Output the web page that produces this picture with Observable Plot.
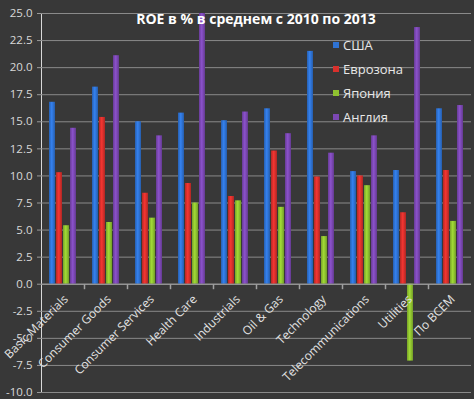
<!DOCTYPE html>
<html>
<head>
<meta charset="utf-8">
<script src="https://cdn.jsdelivr.net/npm/d3@7"></script>
<script src="https://cdn.jsdelivr.net/npm/@observablehq/plot@0.6"></script>
<style>
  html, body { margin: 0; padding: 0; background: #383838; }
  #wrap { position: relative; width: 474px; height: 399px; overflow: hidden; background: #383838; font-family: "Open Sans", sans-serif; }
  #chart { position: absolute; left: 0; top: 0; }
  #title { position: absolute; left: 256px; top: 9px; transform: translateX(-50%); color: #ffffff; font-weight: bold; font-size: 14px; white-space: nowrap; }
  #legend { position: absolute; left: 333px; top: 33px; }
  .item { display: flex; align-items: center; height: 24px; color: #e8e8e8; font-size: 13px; }
  .sw { width: 6px; height: 6px; margin-right: 4px; }
</style>
</head>
<body>
<div id="wrap">
  <div id="chart"></div>
  <div id="title"></div>
  <div id="legend"></div>
</div>
<script>
const title = "ROE в % в среднем с 2010 по 2013";
const categories = ["Basic Materials", "Consumer Goods", "Consumer Services", "Health Care", "Industrials", "Oil & Gas", "Technology", "Telecommunications", "Utilities", "По ВСЕМ"];
const series = ["США", "Еврозона", "Япония", "Англия"];
const usa      = [16.8, 18.2, 15.0, 15.8, 15.1, 16.2, 21.5, 10.4, 10.5, 16.2];
const eurozone = [10.3, 15.4, 8.4, 9.3, 8.1, 12.3, 9.9, 10.0, 6.6, 10.5];
const japan    = [5.4, 5.7, 6.1, 7.5, 7.7, 7.1, 4.4, 9.1, -7.1, 5.8];
const uk       = [14.4, 21.1, 13.7, 25.0, 15.9, 13.9, 12.1, 13.7, 23.7, 16.5];
const yTicks = [-10, -7.5, -5, -2.5, 0, 2.5, 5, 7.5, 10, 12.5, 15, 17.5, 20, 22.5, 25];
const colors = ["#2f73d4", "#d8302c", "#8fc230", "#7c48b4"];

const valuesBySeries = [usa, eurozone, japan, uk];
const table = [];
categories.forEach((c, i) => {
  series.forEach((s, j) => table.push({category: c, series: s, value: valuesBySeries[j][i]}));
});

const tickSymbol = { draw(ctx) { ctx.moveTo(0, 0); ctx.lineTo(0, 5); } };

const chart = Plot.plot({
  width: 474,
  height: 399,
  marginLeft: 39,
  marginRight: 1,
  marginTop: 13,
  marginBottom: 7,
  style: { background: "transparent", color: "#d8d8d8", fontFamily: "Open Sans", fontSize: "11.5px" },
  fx: { domain: categories, padding: 0, axis: null },
  x: { domain: series, paddingInner: 0.08, paddingOuter: 0.84, axis: null },
  y: { domain: [-10, 25], ticks: yTicks, tickFormat: d => d.toFixed(1), tickSize: 4, tickPadding: 5, line: true, label: null },
  color: { domain: series, range: colors },
  marks: [
    Plot.ruleY(yTicks, { stroke: "#8a8a8a", strokeWidth: 1 }),
    Plot.barY(table, { fx: "category", x: "series", y: "value", fill: "series" }),
    Plot.ruleY([0], { stroke: "#a0a0a0" }),
    Plot.dot(categories.slice(1), { fx: d => d, y: () => 0, frameAnchor: "left", symbol: tickSymbol, stroke: "#a0a0a0", fill: "none" }),
    Plot.text(categories, { fx: d => d, y: () => 0, text: d => d, rotate: -45, textAnchor: "end", dx: 3, dy: 13, fill: "#e4e4e4", fontSize: 12 })
  ]
});
document.getElementById("chart").appendChild(chart);

// glossy gradients for bars
const svg = d3.select(chart);
const defs = svg.insert("defs", ":first-child");
const gradIds = {};
colors.forEach((c, i) => {
  const id = "bargrad" + i;
  const g = defs.append("linearGradient").attr("id", id).attr("x1", "0").attr("x2", "1").attr("y1", "0").attr("y2", "0");
  g.append("stop").attr("offset", "0%").attr("stop-color", d3.color(c).darker(0.5));
  g.append("stop").attr("offset", "45%").attr("stop-color", d3.color(c).brighter(0.35));
  g.append("stop").attr("offset", "100%").attr("stop-color", d3.color(c).darker(0.6));
  gradIds[d3.color(c).formatHex()] = id;
});
svg.selectAll("g[aria-label=bar] rect").each(function() {
  const f = this.getAttribute("fill");
  if (f) {
    const key = d3.color(f).formatHex();
    if (gradIds[key]) this.setAttribute("fill", "url(#" + gradIds[key] + ")");
  }
});
svg.selectAll("g[aria-label='y-axis'] path, g[aria-label='y-axis tick'] path").attr("stroke", "#9a9a9a");

document.getElementById("title").textContent = title;
const legend = d3.select("#legend");
series.forEach((s, i) => {
  const it = legend.append("div").attr("class", "item");
  it.append("div").attr("class", "sw").style("background", colors[i]);
  it.append("span").text(s);
});
</script>
</body>
</html>
